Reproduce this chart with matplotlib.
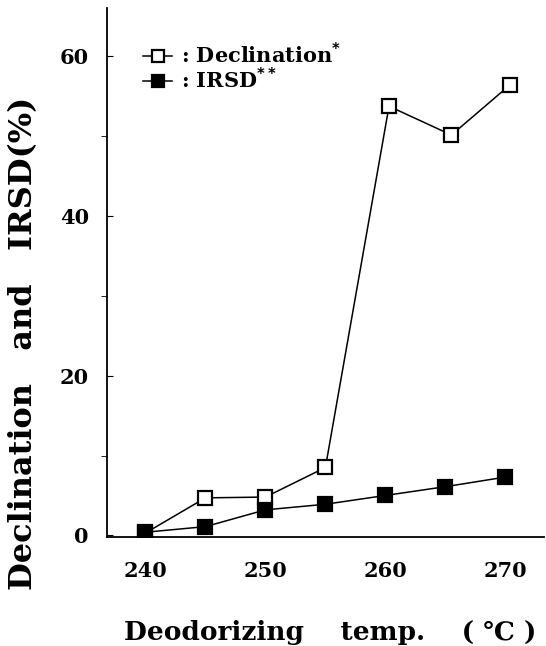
import matplotlib.pyplot as plt

# Deodorizing temperature vs declination / IRSD
decl_temp = [240, 245, 250, 255, 260.3, 265.5, 270.4]
decl_val = [0.3, 4.7, 4.8, 8.5, 53.7, 50.1, 56.4]
irsd_temp = [240, 245, 250, 255, 260, 265, 270]
irsd_val = [0.4, 1.1, 3.2, 3.9, 5.0, 6.1, 7.3]

xticks = [240, 250, 260, 270]
yticks = [0, 20, 40, 60]

plt.rcParams['font.family'] = ['DejaVu Serif', 'DejaVu Sans']
plt.rcParams['font.weight'] = 'bold'
plt.rcParams['mathtext.default'] = 'bf'

fig = plt.figure(figsize=(5.46, 6.46), dpi=100)
ax = fig.add_axes([0.196, 0.1687, 0.80, 0.819])

ax.plot(decl_temp, decl_val, color='black', lw=1.1, marker='s', ms=10,
        mfc='white', mec='black', mew=1.6, label=r': Declination$^{*}$')
ax.plot(irsd_temp, irsd_val, color='black', lw=1.1, marker='s', ms=10,
        mfc='black', mec='black', mew=1.6, label=r': IRSD$^{**}$')

ax.set_xlim(236.8, 273.2)
ax.set_ylim(-0.2, 66)
ax.set_xticks(xticks)
ax.set_yticks(yticks)
ax.set_yticks([10, 30, 50], minor=True)
ax.tick_params(axis='both', direction='in', length=0, labelsize=15, pad=17)
ax.tick_params(axis='y', which='both', length=4, pad=13)
ax.spines['top'].set_visible(False)
ax.spines['right'].set_visible(False)
for s in ['left', 'bottom']:
    ax.spines[s].set_linewidth(1.3)

ax.set_xlabel('Deodorizing    temp.    ( ℃ )', fontsize=19, fontweight='bold',
              va='center', ha='center')
ax.xaxis.set_label_coords(0.51, -0.181)
ax.set_ylabel('Declination   and   IRSD(%)', fontsize=23, fontweight='bold',
              va='center', ha='center')
ax.yaxis.set_label_coords(-0.19, 0.366)

leg = ax.legend(loc='upper left', bbox_to_anchor=(0.04, 0.971), frameon=False,
                handlelength=1.4, handletextpad=0.4, labelspacing=0.0,
                prop={'size': 15, 'weight': 'bold'}, markerscale=0.85)

fig.savefig('out.png', dpi=100)
